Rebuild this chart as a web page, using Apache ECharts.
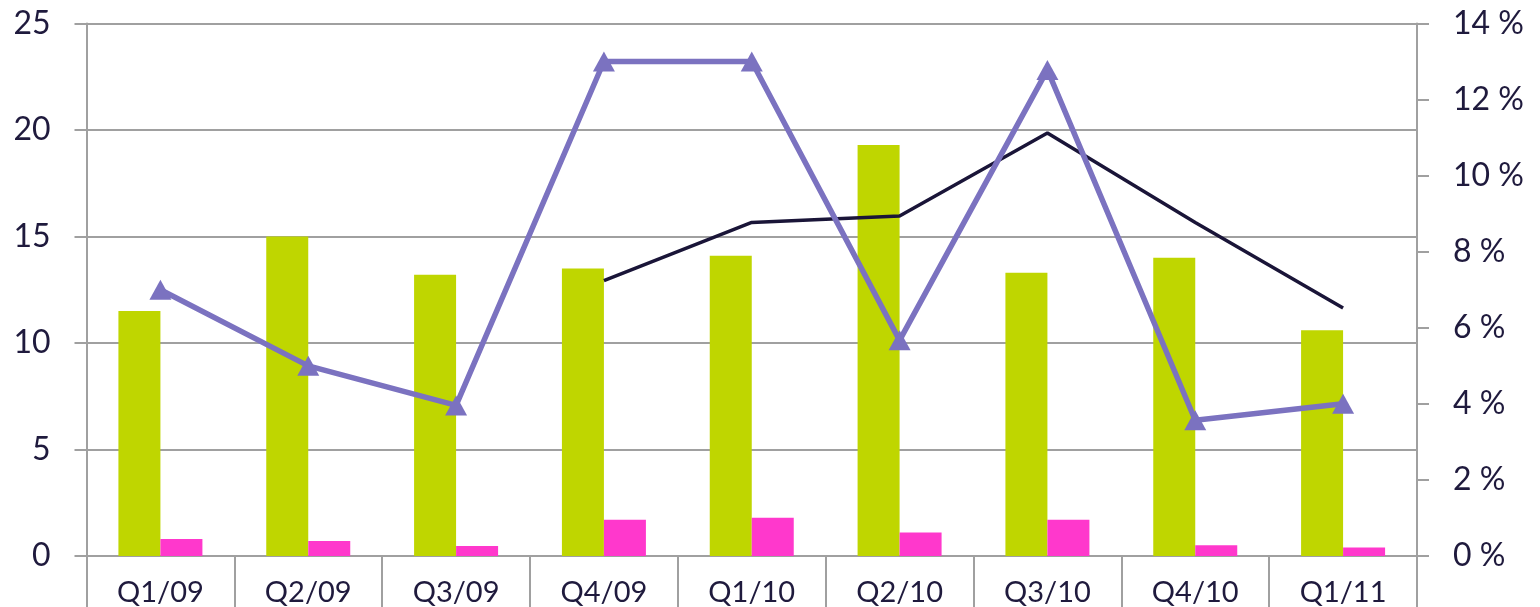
<!DOCTYPE html>
<html><head><meta charset="utf-8">
<script src="https://cdn.jsdelivr.net/npm/echarts@6/dist/echarts.min.js"></script>
<style>html,body{margin:0;padding:0;background:#fff}#c{width:1540px;height:607px}</style>
</head><body><div id="c"></div>
<script>
var categories = ['Q1/09','Q2/09','Q3/09','Q4/09','Q1/10','Q2/10','Q3/10','Q4/10','Q1/11'];
var greenBars = [11.5, 15.0, 13.2, 13.5, 14.1, 19.3, 13.3, 14.0, 10.6];
var pinkBars = [0.8, 0.7, 0.47, 1.7, 1.8, 1.1, 1.7, 0.5, 0.4];
var purpleLine = [7.0, 5.0, 3.96, 13.0, 13.0, 5.67, 12.78, 3.57, 4.0];
var navyLine = [null, null, null, 7.24, 8.77, 8.94, 11.12, 8.77, 6.52];
var leftTicks = [0, 5, 10, 15, 20, 25];
var rightTicks = [0, 2, 4, 6, 8, 10, 12, 14];

var txt = '#1f1a3d', gridC = '#a0a0a0', font = 'Lato';
var chart = echarts.init(document.getElementById('c'));
chart.setOption({
  animation: false,
  grid: {left: 86.5, right: 123, top: 23.5, bottom: 48.5, containLabel: false},
  xAxis: {
    type: 'category', data: categories, boundaryGap: true,
    axisLine: {lineStyle: {color: gridC, width: 2}},
    axisTick: {show: true, length: 60, lineStyle: {color: gridC, width: 2}},
    axisLabel: {color: txt, fontSize: 29, fontFamily: font, margin: 22}
  },
  yAxis: [{
    type: 'value', min: leftTicks[0], max: leftTicks[leftTicks.length-1], interval: 5,
    axisLine: {show: true, lineStyle: {color: gridC, width: 2}},
    axisTick: {show: true, length: 12, lineStyle: {color: gridC, width: 2}},
    splitLine: {show: true, lineStyle: {color: gridC, width: 2}},
    axisLabel: {color: txt, fontSize: 32, fontFamily: font, margin: 36}
  }, {
    type: 'value', min: rightTicks[0], max: rightTicks[rightTicks.length-1], interval: 2,
    position: 'right',
    axisLine: {show: true, lineStyle: {color: gridC, width: 2}},
    axisTick: {show: true, length: 12, lineStyle: {color: gridC, width: 2}},
    splitLine: {show: false},
    axisLabel: {color: txt, fontSize: 32, fontFamily: font, margin: 36, formatter: '{value} %'}
  }],
  series: [
    {type: 'bar', data: greenBars, barWidth: 42, barGap: '0%', itemStyle: {color: '#bfd600'}, yAxisIndex: 0},
    {type: 'bar', data: pinkBars, barWidth: 42, barGap: '0%', itemStyle: {color: '#ff38cc'}, yAxisIndex: 0},
    {type: 'line', data: navyLine, yAxisIndex: 1, symbol: 'none', lineStyle: {color: '#1a1538', width: 3.5}, z: 3},
    {type: 'line', data: purpleLine, yAxisIndex: 1, symbol: 'triangle', symbolSize: [22, 20],
     itemStyle: {color: '#7b72c0'}, lineStyle: {color: '#7b72c0', width: 5.5}, z: 4}
  ]
});
</script></body></html>
